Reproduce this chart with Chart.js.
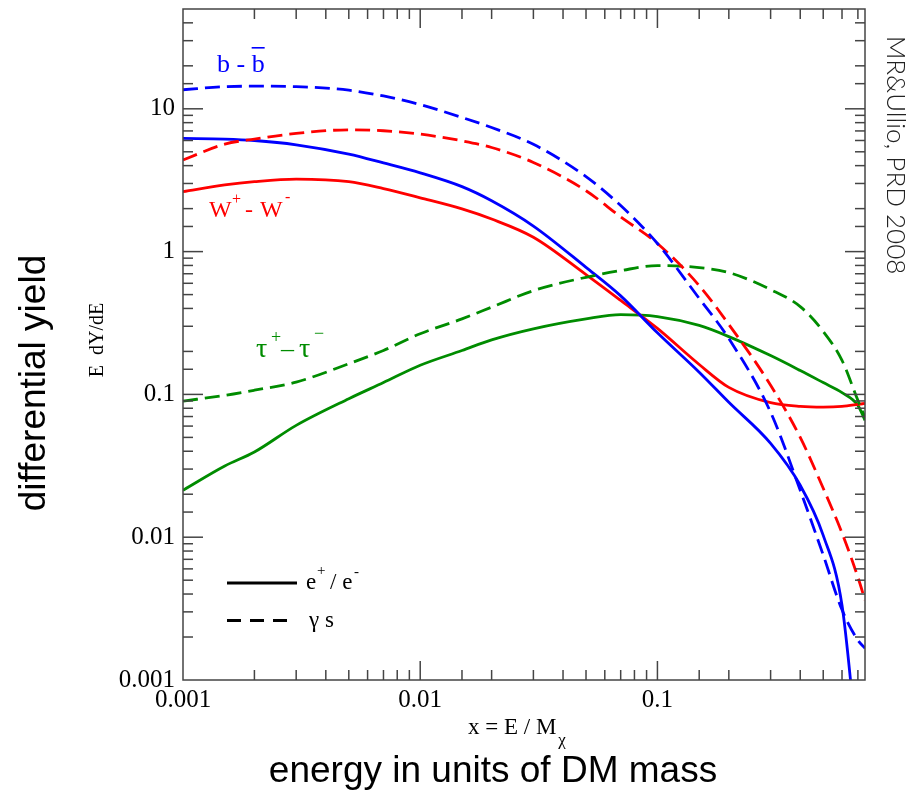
<!DOCTYPE html>
<html>
<head>
<meta charset="utf-8">
<script src="https://cdn.jsdelivr.net/npm/chart.js@4.4.1/dist/chart.umd.min.js"></script>
<style>
  html, body { margin: 0; padding: 0; background: #fff; }
  #wrap { width: 912px; height: 793px; }
</style>
</head>
<body>
<div id="wrap"><canvas id="chart" width="912" height="793"></canvas></div>
<script>
// x = E / M_chi sample points
const energyFractions = [0.001, 0.0015, 0.002, 0.003, 0.005, 0.007, 0.01, 0.015, 0.02, 0.03, 0.05, 0.07, 0.1, 0.15, 0.2, 0.3, 0.4, 0.5, 0.6, 0.7, 0.75];

// E dY/dE
const bbGamma    = [13.6, 14.3, 14.4, 14.3, 13.5, 12.3, 10.7, 8.7, 7.4, 5.64, 3.35, 2.1, 1.14, 0.47, 0.246, 0.075, 0.0213, 0.0075, 0.0031, 0.0019, 0.00167];
const bbPositron = [6.2, 6.14, 6.0, 5.6, 4.82, 4.18, 3.56, 2.85, 2.27, 1.51, 0.776, 0.49, 0.27, 0.143, 0.088, 0.0454, 0.0231, 0.0103, 0.00334, 0.0003, 0.0001];
const wwGamma    = [4.38, 5.66, 6.14, 6.72, 7.13, 7.02, 6.65, 5.97, 5.36, 4.21, 2.67, 1.75, 1.14, 0.578, 0.309, 0.116, 0.050, 0.022, 0.0107, 0.00525, 0.00363];
const wwPositron = [2.63, 2.93, 3.09, 3.22, 3.09, 2.76, 2.38, 1.99, 1.69, 1.26, 0.69, 0.455, 0.29, 0.162, 0.112, 0.0875, 0.0824, 0.0815, 0.0824, 0.0851, 0.0865];
const ttGamma    = [0.0898, 0.0984, 0.107, 0.122, 0.164, 0.203, 0.266, 0.338, 0.408, 0.533, 0.661, 0.736, 0.798, 0.773, 0.713, 0.542, 0.412, 0.276, 0.173, 0.0908, 0.069];
const ttPositron = [0.0213, 0.0315, 0.0395, 0.0607, 0.0933, 0.121, 0.16, 0.203, 0.241, 0.288, 0.338, 0.362, 0.351, 0.304, 0.254, 0.187, 0.147, 0.121, 0.103, 0.0838, 0.0658];

// axis labels shown on the decades
const xTickLabels = ['0.001', '0.01', '0.1'];
const yTickLabels = ['0.001', '0.01', '0.1', '1', '10'];

const BLUE = '#0000ff';
const RED = '#ff0000';
const GREEN = '#008c00';
const DASH = [15, 7];

const toPoints = ys => energyFractions.map((x, i) => ({ x: x, y: ys[i] }));

function makeSet(label, ys, color, dashed) {
  return {
    label: label,
    data: toPoints(ys),
    borderColor: color,
    backgroundColor: color,
    borderWidth: 2.8,
    borderDash: dashed ? DASH : [],
    pointRadius: 0,
    fill: false,
    cubicInterpolationMode: 'monotone'
  };
}

const isDecade = v => Math.abs(Math.log10(v) - Math.round(Math.log10(v))) < 1e-6;

// inward ticks on all four sides, plus the frame
const framePlugin = {
  id: 'frame',
  afterDraw(chart) {
    const { ctx, chartArea: a, scales } = chart;
    ctx.save();
    ctx.strokeStyle = '#444';
    ctx.lineWidth = 1.5;
    ctx.strokeRect(a.left, a.top, a.right - a.left, a.bottom - a.top);

    const seg = (x1, y1, x2, y2) => {
      ctx.beginPath(); ctx.moveTo(x1, y1); ctx.lineTo(x2, y2); ctx.stroke();
    };
    scales.x.ticks.forEach(t => {
      const px = scales.x.getPixelForValue(t.value);
      if (px <= a.left + 1 || px >= a.right - 1) return;
      const len = isDecade(t.value) ? 19 : 10;
      seg(px, a.bottom, px, a.bottom - len);
      seg(px, a.top, px, a.top + len);
    });
    scales.y.ticks.forEach(t => {
      const py = scales.y.getPixelForValue(t.value);
      if (py >= a.bottom - 1 || py <= a.top + 1) return;
      const len = isDecade(t.value) ? 20 : 10;
      seg(a.left, py, a.left + len, py);
      seg(a.right, py, a.right - len, py);
    });
    ctx.restore();
  }
};

// annotations, legend and axis titles
const textPlugin = {
  id: 'texts',
  afterDraw(chart) {
    const ctx = chart.ctx;
    ctx.save();
    ctx.textBaseline = 'alphabetic';
    ctx.textAlign = 'left';

    // b - b̄
    ctx.fillStyle = BLUE;
    ctx.font = '26px "Liberation Serif"';
    ctx.fillText('b - ', 217, 72);
    const bx = 217 + ctx.measureText('b - ').width;
    ctx.fillText('b', bx, 72);
    const bw = ctx.measureText('b').width;
    ctx.fillRect(bx, 47, bw, 1.6);

    // W+ - W-
    ctx.fillStyle = RED;
    ctx.font = '24px "Liberation Serif"';
    ctx.fillText('W', 209, 217);
    ctx.fillText('-', 245, 217);
    ctx.fillText('W', 260, 217);
    ctx.font = '16px "Liberation Serif"';
    ctx.fillText('+', 232, 204);
    ctx.fillText('-', 285, 202);

    // tau+ - tau-
    ctx.fillStyle = GREEN;
    ctx.font = '28px "Liberation Serif"';
    ctx.fillText('\u03c4', 256, 357);
    ctx.font = '18px "Liberation Serif"';
    ctx.fillText('+', 271, 343);
    ctx.font = '26px "Liberation Serif"';
    ctx.fillText('\u2013', 281, 357);
    ctx.font = '28px "Liberation Serif"';
    ctx.fillText('\u03c4', 299, 357);
    ctx.font = '18px "Liberation Serif"';
    ctx.fillText('\u2212', 314, 339);

    // legend
    ctx.strokeStyle = '#000';
    ctx.lineWidth = 2.8;
    ctx.beginPath(); ctx.moveTo(227, 583); ctx.lineTo(297, 583); ctx.stroke();
    ctx.setLineDash([14, 9]);
    ctx.beginPath(); ctx.moveTo(227, 620.5); ctx.lineTo(290, 620.5); ctx.stroke();
    ctx.setLineDash([]);
    ctx.fillStyle = '#000';
    ctx.font = '23px "Liberation Serif"';
    ctx.fillText('e', 306, 589);
    ctx.font = '15px "Liberation Serif"';
    ctx.fillText('+', 317, 575);
    ctx.font = '23px "Liberation Serif"';
    ctx.fillText('/ e', 330, 589);
    ctx.font = '15px "Liberation Serif"';
    ctx.fillText('-', 354, 576);
    ctx.font = '23px "Liberation Serif"';
    ctx.fillText('\u03b3 s', 309, 627);

    // x axis title: x = E / M_chi
    ctx.font = '23px "Liberation Serif"';
    ctx.fillText('x = E / M', 468, 734);
    const mw = ctx.measureText('x = E / M').width;
    ctx.font = '17px "Liberation Serif"';
    ctx.fillText('\u03c7', 468 + mw + 2, 745);

    // big outer titles
    ctx.font = '37px "Liberation Sans"';
    ctx.textAlign = 'center';
    ctx.fillText('energy in units of DM mass', 493, 782);

    ctx.save();
    ctx.translate(45, 383);
    ctx.rotate(-Math.PI / 2);
    ctx.fillText('differential yield', 0, 0);
    ctx.restore();

    ctx.save();
    ctx.translate(103, 340);
    ctx.rotate(-Math.PI / 2);
    ctx.font = '20px "Liberation Serif"';
    ctx.fillText('E  dY/dE', 0, 0);
    ctx.restore();

    ctx.save();
    ctx.translate(887, 155);
    ctx.rotate(Math.PI / 2);
    ctx.font = '300 26px "Lato"';
    ctx.fillStyle = '#222';
    ctx.fillText('MR&Ullio, PRD 2008', 0, 0);
    ctx.restore();

    ctx.restore();
  }
};

const tickFont = { family: '"Liberation Serif"', size: 25 };

new Chart(document.getElementById('chart').getContext('2d'), {
  type: 'line',
  data: {
    datasets: [
      makeSet('b b gamma', bbGamma, BLUE, true),
      makeSet('W W gamma', wwGamma, RED, true),
      makeSet('tau tau gamma', ttGamma, GREEN, true),
      makeSet('b b e+e-', bbPositron, BLUE, false),
      makeSet('W W e+e-', wwPositron, RED, false),
      makeSet('tau tau e+e-', ttPositron, GREEN, false)
    ]
  },
  options: {
    responsive: false,
    animation: false,
    layout: { padding: { left: 0, right: 47, top: 9, bottom: 0 } },
    plugins: {
      legend: { display: false },
      tooltip: { enabled: false }
    },
    scales: {
      x: {
        type: 'logarithmic',
        min: 0.001,
        max: 0.75,
        grid: { display: false, drawTicks: false },
        border: { display: false },
        ticks: {
          autoSkip: false,
          maxRotation: 0,
          padding: 5,
          color: '#000',
          font: tickFont,
          callback: v => (isDecade(v) && xTickLabels.includes(String(v))) ? String(v) : ''
        },
        afterFit: s => { s.height = 113; s.paddingLeft = 0; s.paddingRight = 0; }
      },
      y: {
        type: 'logarithmic',
        min: 0.001,
        max: 50,
        grid: { display: false, drawTicks: false },
        border: { display: false },
        ticks: {
          autoSkip: false,
          padding: 8,
          color: '#000',
          font: tickFont,
          callback: v => (isDecade(v) && yTickLabels.includes(String(v))) ? String(v) : ''
        },
        afterFit: s => { s.width = 183; s.paddingTop = 0; s.paddingBottom = 0; }
      }
    }
  },
  plugins: [framePlugin, textPlugin]
});
</script>
</body>
</html>
